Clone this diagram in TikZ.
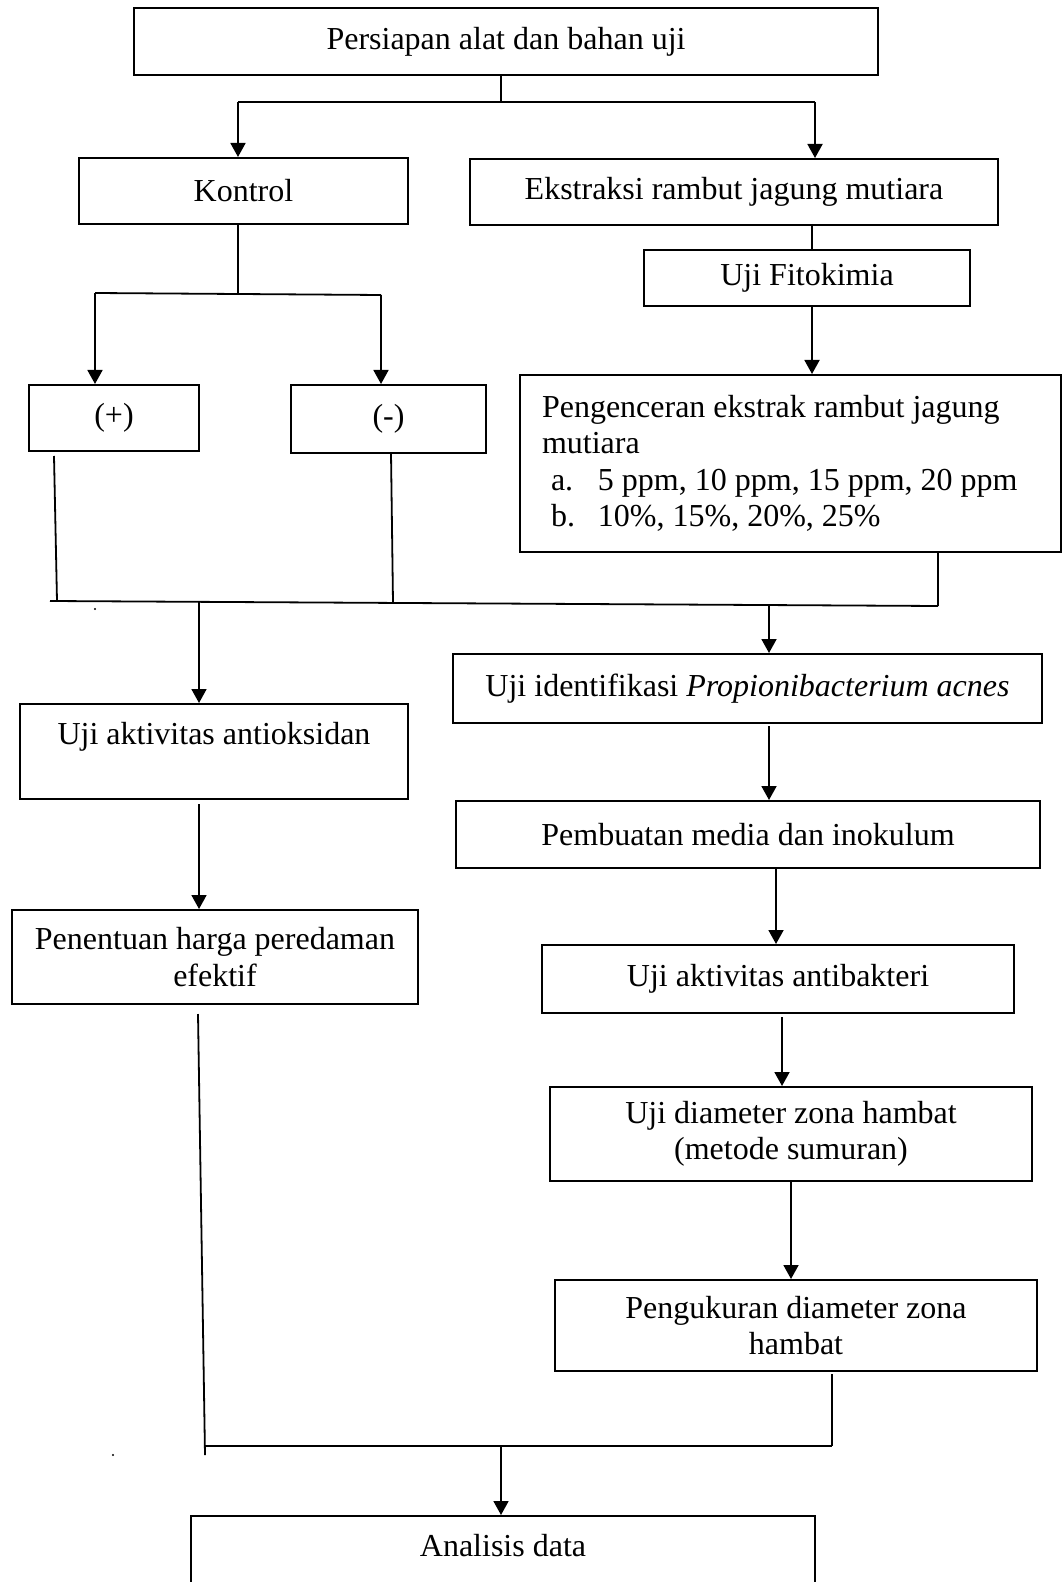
\documentclass[tikz,border=0pt]{standalone}
\usepackage{fontspec}
\setmainfont{Liberation Serif}
\usetikzlibrary{arrows.meta}

\tikzset{
  box/.style={draw, rectangle, line width=1pt, inner sep=0pt, align=center,
    font=\fontsize{16}{18.2}\selectfont},
  arr/.style={-{Triangle[length=7pt,width=7.5pt]}},
  ln/.style={line width=0.9pt}
}

\begin{document}
\begin{tikzpicture}[x=0.5pt,y=-0.5pt]
  \useasboundingbox (0,0) rectangle (1063,1582);

  % boxes
  \node[box, minimum width=372pt, minimum height=33.5pt] (persiapan) at (506,41.5) {Persiapan alat dan bahan uji};
  \node[box, minimum width=164.5pt, minimum height=33pt] (kontrol) at (243.5,191) {Kontrol};
  \node[box, minimum width=264pt, minimum height=33pt] (ekstraksi) at (734,192) {Ekstraksi rambut jagung mutiara};
  \node[box, minimum width=163pt, minimum height=28pt] (fitokimia) at (807,278) {Uji Fitokimia};
  \node[box, minimum width=85pt, minimum height=33pt] (plus) at (114,418) {(+)};
  \node[box, minimum width=97.5pt, minimum height=34pt] (minus) at (388.5,419) {(-)};
  \node[box, minimum width=270.5pt, minimum height=88.5pt] (pengenceran) at (790.5,463.5)
    {\parbox{248.5pt}{\raggedright
     Pengenceran ekstrak rambut jagung\\
     mutiara\\
     \hspace*{4.5pt}\makebox[23.5pt][l]{a.}5 ppm, 10 ppm, 15 ppm, 20 ppm\\
     \hspace*{4.5pt}\makebox[23.5pt][l]{b.}10\%, 15\%, 20\%, 25\%}};
  \node[box, minimum width=194pt, minimum height=47.5pt] (antioksidan) at (214,751.5) {Uji aktivitas antioksidan\\\mbox{}};
  \node[box, minimum width=294.5pt, minimum height=34.5pt] (identifikasi) at (747.5,688.5) {Uji identifikasi \textit{Propionibacterium acnes}};
  \node[box, minimum width=292pt, minimum height=33.5pt] (pembuatan) at (748,834.5) {Pembuatan media dan inokulum};
  \node[box, minimum width=203pt, minimum height=47pt] (penentuan) at (215,957) {Penentuan harga peredaman\\efektif};
  \node[box, minimum width=236pt, minimum height=34pt] (antibakteri) at (778,979) {Uji aktivitas antibakteri};
  \node[box, minimum width=241pt, minimum height=47pt] (diameter) at (791,1134) {Uji diameter zona hambat\\(metode sumuran)};
  \node[box, minimum width=241pt, minimum height=45.5pt] (pengukuran) at (796,1325.5) {Pengukuran diameter zona\\hambat};
  \node[box, minimum width=312pt, minimum height=47.5pt] (analisis) at (503,1563.5) {Analisis data\\\mbox{}};

  % branch under Persiapan
  \coordinate (j1) at (501,102);
  \coordinate (k1) at (238,102);
  \coordinate (k2) at (815,102);
  \draw[ln] (j1 |- persiapan.south) -- (j1);
  \draw[ln] (k1) -- (k2);
  \draw[ln, arr] (k1) -- (k1 |- kontrol.north);
  \draw[ln, arr] (k2) -- (k2 |- ekstraksi.north);

  % Kontrol to (+) and (-)
  \coordinate (c1) at (238,294);
  \coordinate (p1) at (95,293);
  \coordinate (m1) at (381,295);
  \draw[ln] (c1 |- kontrol.south) -- (c1);
  \draw[ln] (p1) -- (m1);
  \draw[ln, arr] (p1) -- (p1 |- plus.north);
  \draw[ln, arr] (m1) -- (m1 |- minus.north);

  % Ekstraksi to Fitokimia to Pengenceran
  \coordinate (f1) at (812,224);
  \draw[ln] (f1) -- (f1 |- fitokimia.north);
  \draw[ln, arr] (f1 |- fitokimia.south) -- (f1 |- pengenceran.north);

  % collecting line
  \coordinate (b1) at (50,601);
  \coordinate (b2) at (938,606);
  \draw[ln] (54,456) -- (57,601);
  \draw[ln] (391,453) -- (393,603);
  \draw[ln] (b2 |- pengenceran.south) -- (b2);
  \draw[ln] (b1) -- (b2);
  \fill (95,609) circle (0.6pt);

  % left column
  \draw[ln, arr] (199,602) -- (199,0 |- antioksidan.north);
  \draw[ln, arr] (199,804) -- (199,0 |- penentuan.north);

  % right column
  \draw[ln, arr] (769,605) -- (769,0 |- identifikasi.north);
  \draw[ln, arr] (769,726) -- (769,0 |- pembuatan.north);
  \draw[ln, arr] (776,0 |- pembuatan.south) -- (776,0 |- antibakteri.north);
  \draw[ln, arr] (782,1017) -- (782,0 |- diameter.north);
  \draw[ln, arr] (791,0 |- diameter.south) -- (791,0 |- pengukuran.north);

  % joining to Analisis data
  \coordinate (d1) at (205,1446);
  \coordinate (d2) at (832,1446);
  \draw[ln] (198,1014) -- (205,1455);
  \draw[ln] (832,1374) -- (d2);
  \draw[ln] (d1) -- (d2);
  \draw[ln, arr] (501,1446) -- (501,0 |- analisis.north);
  \fill (113,1455) circle (0.6pt);
\end{tikzpicture}
\end{document}
